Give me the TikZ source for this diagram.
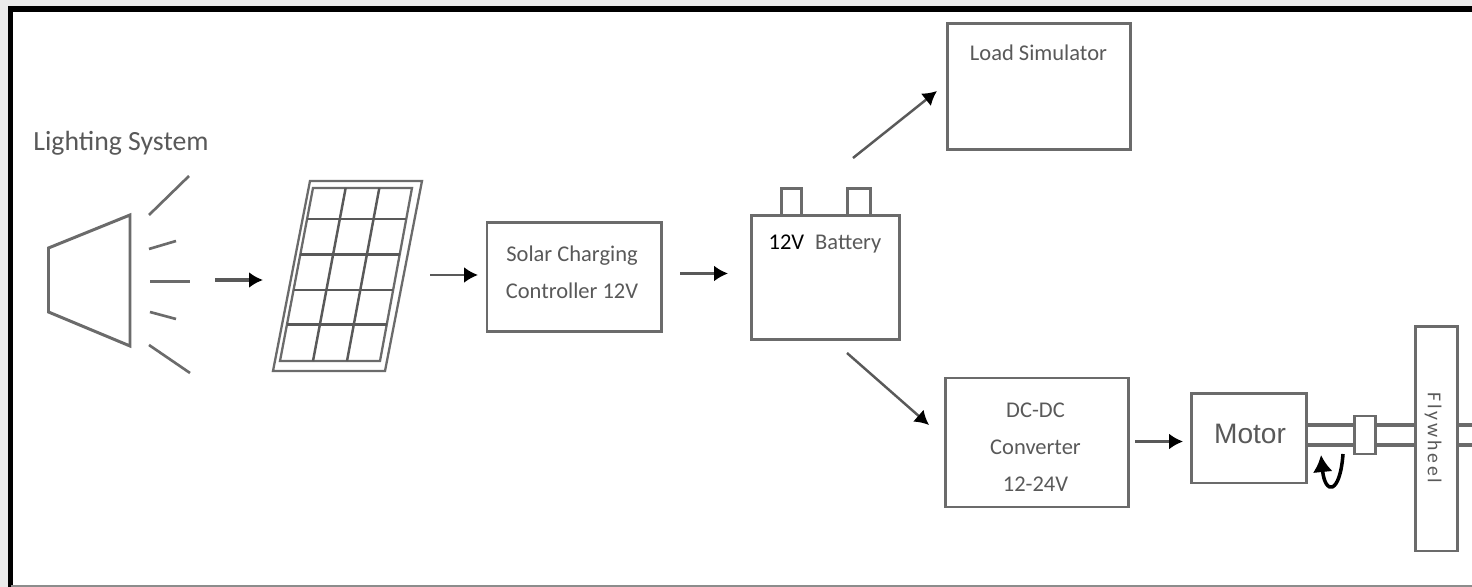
\documentclass[tikz,border=0pt]{standalone}
\usepackage{fontspec}
\usepackage{xcolor}
\setmainfont{Carlito}
\newfontfamily\motorfont{Liberation Sans}
\usetikzlibrary{arrows.meta,positioning,calc}
\definecolor{linegray}{gray}{0.42}
\definecolor{textgray}{gray}{0.35}
\tikzset{
  blockbox/.style={draw=linegray,line width=0.85pt,fill=white,inner sep=0pt,outer sep=0pt},
  blocktext/.style={text=textgray,align=center,inner sep=0pt,font=\fontsize{6.4}{10.5}\selectfont},
  flowarrow/.style={draw=black!65,line width=0.7pt,-{Latex[length=1.4mm,width=1.6mm,color=black]}},
  rayline/.style={draw=linegray,line width=0.75pt},
  shaftline/.style={draw=linegray,line width=0.9pt}
}
\begin{document}
\begin{tikzpicture}
  \useasboundingbox (0,-5.87) rectangle (14.72,0);
  \fill[black!8] (0,-5.87) rectangle (14.72,0);
  \fill[white] (0.11,-5.86) rectangle (14.72,-0.09);
  \draw[black,line width=1.6pt] (14.72,-0.09) -- (0.105,-0.09) -- (0.105,-5.87);
  \draw[black!45,line width=0.4pt] (0.11,-5.86) -- (14.72,-5.86);

  % lamp
  \node[blocktext,font=\fontsize{7.9}{9}\selectfont] (lighting) at (1.21,-1.43) {Lighting System};
  \draw[rayline,line width=0.85pt] (0.485,-2.48) -- (1.3,-2.15) -- (1.3,-3.46) -- (0.485,-3.12) -- cycle;
  \foreach \xa/\ya/\xb/\yb in {1.49/-2.15/1.89/-1.76,1.49/-2.49/1.76/-2.41,1.5/-2.815/1.9/-2.815,1.5/-3.12/1.76/-3.19,1.49/-3.45/1.9/-3.73} {
    \draw[rayline] (\xa,\ya) -- (\xb,\yb);
  }

  % panel
  \coordinate (panelnw) at (3.13,-1.88);
  \coordinate (panelne) at (4.12,-1.88);
  \coordinate (panelse) at (3.8,-3.61);
  \coordinate (panelsw) at (2.8,-3.61);
  \draw[rayline,line width=0.65pt] (3.1,-1.81) -- (4.22,-1.81) -- (3.85,-3.71) -- (2.73,-3.71) -- cycle;
  \draw[rayline,line width=0.65pt] (panelnw) -- (panelne) -- (panelse) -- (panelsw) -- cycle;
  \foreach \t in {0.18,0.385,0.59,0.79} {
    \draw[draw=black!65,line width=0.75pt] ($(panelnw)!\t!(panelsw)$) -- ($(panelne)!\t!(panelse)$);
  }
  \foreach \t in {0.33,0.67} {
    \draw[draw=black!65,line width=0.7pt] ($(panelnw)!\t!(panelne)$) -- ($(panelsw)!\t!(panelse)$);
  }

  % blocks
  \node[blockbox,minimum width=1.74cm,minimum height=1.09cm] (charger) at (5.74,-2.775) {};
  \node[blocktext] (chargertext) at (5.72,-2.725) {Solar Charging\\Controller 12V};
  \node[blockbox,minimum width=1.48cm,minimum height=1.24cm] (battery) at (8.25,-2.775) {};
  \node[blockbox,minimum width=0.2cm,minimum height=0.27cm,above=0pt of battery.north west,xshift=0.4cm] (termleft) {};
  \node[blockbox,minimum width=0.23cm,minimum height=0.27cm,above=0pt of battery.north east,xshift=-0.405cm] (termright) {};
  \node[blocktext] (batterytext) at (8.25,-2.44) {\textcolor{black}{12V}\hspace{1.1mm}Battery};
  \node[blockbox,minimum width=1.83cm,minimum height=1.26cm] (load) at (10.385,-0.87) {};
  \node[blocktext] (loadtext) at (10.385,-0.53) {Load Simulator};
  \node[blockbox,minimum width=1.83cm,minimum height=1.29cm] (converter) at (10.365,-4.425) {};
  \node[blocktext] (convertertext) at (10.355,-4.47) {DC-DC\\Converter\\12-24V};
  \node[blockbox,minimum width=1.15cm,minimum height=0.89cm] (motor) at (12.485,-4.385) {};
  \node[blocktext,font=\motorfont\fontsize{8}{10}\selectfont] (motortext) at (12.5,-4.34) {Motor};
  \node[blockbox,minimum width=0.42cm,minimum height=2.24cm] (flywheel) at (14.36,-4.39) {};
  \node[blocktext,rotate=-90,font=\fontsize{5.6}{7}\selectfont\addfontfeatures{LetterSpace=14}] (flywheeltext) at (14.33,-4.38) {Flywheel};

  % shaft
  \coordinate (shaftend) at (14.72,-4.385);
  \foreach \dy in {1.35mm,-0.65mm} {
    \draw[shaftline] ([yshift=\dy]motor.east) -- ([yshift=\dy]motor.east -| flywheel.west);
    \draw[shaftline] ([yshift=\dy]motor.east -| flywheel.east) -- ([yshift=\dy]shaftend);
  }
  \node[blockbox,minimum width=0.21cm,minimum height=0.38cm] (coupling) at (13.645,-4.35) {};
  \draw[black,line width=1pt,-{Latex[length=1.7mm,width=2mm]}] (13.43,-4.54) .. controls (13.4,-4.95) and (13.25,-4.95) .. (13.21,-4.55);

  % arrows
  \coordinate (lampout) at (2.15,-2.8);
  \coordinate (panelin) at (2.63,-2.8);
  \coordinate (panelout) at (4.3,-2.75);
  \coordinate (chargerin) at (4.78,-2.75);
  \coordinate (batteryup) at (8.53,-1.58);
  \coordinate (loadin) at (9.37,-0.91);
  \coordinate (batterydown) at (8.47,-3.53);
  \coordinate (converterin) at (9.29,-4.25);
  \draw[flowarrow,line width=1pt] (lampout) -- (panelin);
  \draw[flowarrow] (panelout) -- (chargerin);
  \draw[flowarrow,shorten <=1.9mm,shorten >=2.3mm] ([yshift=0.4mm]charger.east) -- ([yshift=0.4mm]charger.east -| battery.west);
  \draw[flowarrow] (batteryup) -- (loadin);
  \draw[flowarrow] (batterydown) -- (converterin);
  \draw[flowarrow,shorten <=0.7mm,shorten >=0.8mm] ([yshift=0.1mm]converter.east) -- ([yshift=0.1mm]converter.east -| motor.west);
\end{tikzpicture}
\end{document}
